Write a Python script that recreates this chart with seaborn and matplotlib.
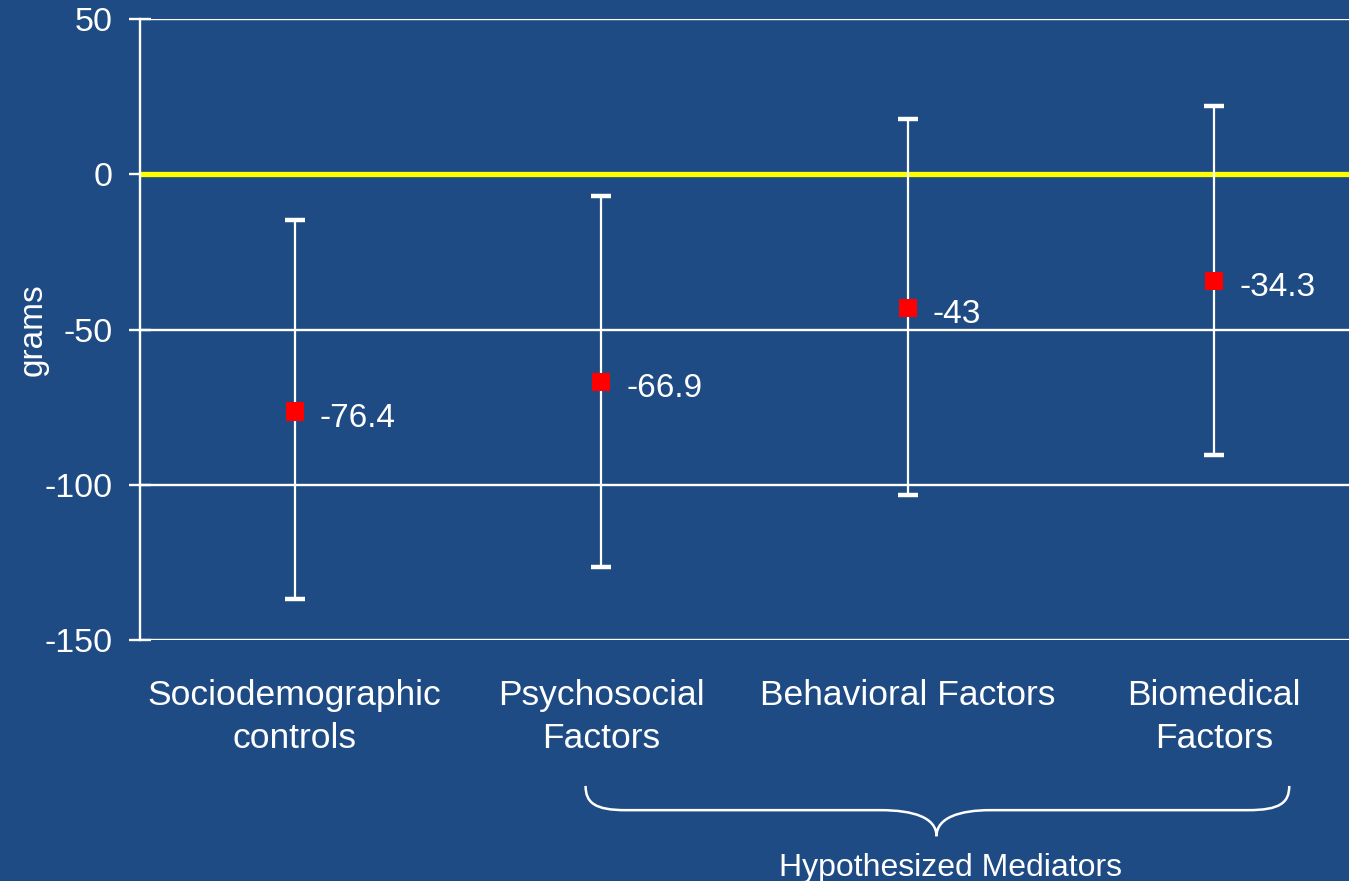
import matplotlib
matplotlib.use("Agg")
import matplotlib.pyplot as plt
import matplotlib.transforms as mtransforms
from matplotlib.path import Path
from matplotlib.patches import PathPatch
import numpy as np
import pandas as pd
import seaborn as sns

# Birth-weight difference (grams) with 95% CI, by model adjustment set
categories = ["Sociodemographic\ncontrols", "Psychosocial\nFactors",
              "Behavioral Factors", "Biomedical\nFactors"]
estimates = [-76.4, -66.9, -43.0, -34.3]
ci_lower = [-136.7, -126.4, -103.3, -90.3]
ci_upper = [-14.7, -6.9, 17.8, 22.1]
value_labels = ["-76.4", "-66.9", "-43", "-34.3"]
y_ticks = [50, 0, -50, -100, -150]
y_label = "grams"
bracket_label = "Hypothesized Mediators"

BG = "#1E4B83"
sns.set_theme(style="dark", rc={
    "axes.facecolor": BG,
    "figure.facecolor": BG,
    "savefig.facecolor": BG,
    "text.color": "white",
    "axes.labelcolor": "white",
    "xtick.color": "white",
    "ytick.color": "white",
})
plt.rcParams["font.family"] = ["Liberation Sans", "DejaVu Sans"]
plt.rcParams["axes.unicode_minus"] = False

W, H = 1349, 881
fig = plt.figure(figsize=(W / 100, H / 100), dpi=100)
ax = fig.add_axes([140 / W, 1 - 640 / H, 1 - 140 / W, (640 - 19) / H])

pos = np.arange(len(categories))
df = pd.DataFrame({"pos": pos, "estimate": estimates,
                   "lower": ci_lower, "upper": ci_upper})

# grid and zero reference
ax.set_ylim(-150, 50)
ax.set_xlim(-0.505, 3.44)
ax.set_yticks(y_ticks)
ax.yaxis.grid(True, color="white", linewidth=1.7)
ax.xaxis.grid(False)
ax.set_axisbelow(True)
ax.axhline(0, color="#FFFF00", linewidth=3.8, zorder=2)

# confidence intervals
est = df["estimate"].to_numpy()
yerr = [est - df["lower"].to_numpy(), df["upper"].to_numpy() - est]
ax.errorbar(df["pos"], est, yerr=yerr, fmt="none", ecolor="white",
            elinewidth=1.6, capsize=7.5, capthick=3.2, zorder=3)

# point estimates
sns.scatterplot(data=df, x="pos", y="estimate", marker="s", s=175,
                color="#FF0000", edgecolor="none", linewidth=0,
                legend=False, ax=ax, zorder=4)

for xi, yi, lab in zip(df["pos"], est, value_labels):
    ax.annotate(lab, (xi, yi), xytext=(18, -5), textcoords="offset points",
                ha="left", va="center", color="white", fontsize=24)

# axes styling
ax.set_xticks(pos)
ax.set_xticklabels(categories, linespacing=1.38)
ax.set_xlabel("")
ax.set_ylabel(y_label, fontsize=24, va="center")
ax.yaxis.set_label_coords(-0.0885, 0.5)
ax.tick_params(axis="y", left=True, direction="inout", length=16, width=1.7,
               color="white", pad=11.5, labelsize=24.5, labelcolor="white")
ax.tick_params(axis="x", bottom=False, length=0, pad=28, labelsize=25.5,
               labelcolor="white")
for side in ("top", "right", "bottom"):
    ax.spines[side].set_visible(False)
ax.spines["left"].set_color("white")
ax.spines["left"].set_linewidth(1.7)

# curly brace grouping the mediator models
trans = mtransforms.blended_transform_factory(ax.transData, ax.transAxes)
x0, x1, xm = 0.949, 3.245, 2.094
y_top, y_mid, y_tip = -0.235, -0.274, -0.316
verts = [
    (x0, y_top),
    (x0, y_mid + 0.012), (x0 + 0.03, y_mid), (1.08, y_mid),
    (1.91, y_mid),
    (2.02, y_mid), (xm, y_mid - 0.012), (xm, y_tip),
    (xm, y_mid - 0.012), (2.17, y_mid), (2.27, y_mid),
    (3.11, y_mid),
    (x1 - 0.03, y_mid), (x1, y_mid + 0.012), (x1, y_top),
]
codes = [Path.MOVETO,
         Path.CURVE4, Path.CURVE4, Path.CURVE4,
         Path.LINETO,
         Path.CURVE4, Path.CURVE4, Path.CURVE4,
         Path.CURVE4, Path.CURVE4, Path.CURVE4,
         Path.LINETO,
         Path.CURVE4, Path.CURVE4, Path.CURVE4]
brace = PathPatch(Path(verts, codes), facecolor="none", edgecolor="white",
                  linewidth=1.8, transform=trans, clip_on=False)
ax.add_patch(brace)
ax.text(2.139, -0.367, bracket_label, transform=trans, ha="center",
        va="center", color="white", fontsize=23, clip_on=False)

fig.savefig("out.png", dpi=100, facecolor=BG)
